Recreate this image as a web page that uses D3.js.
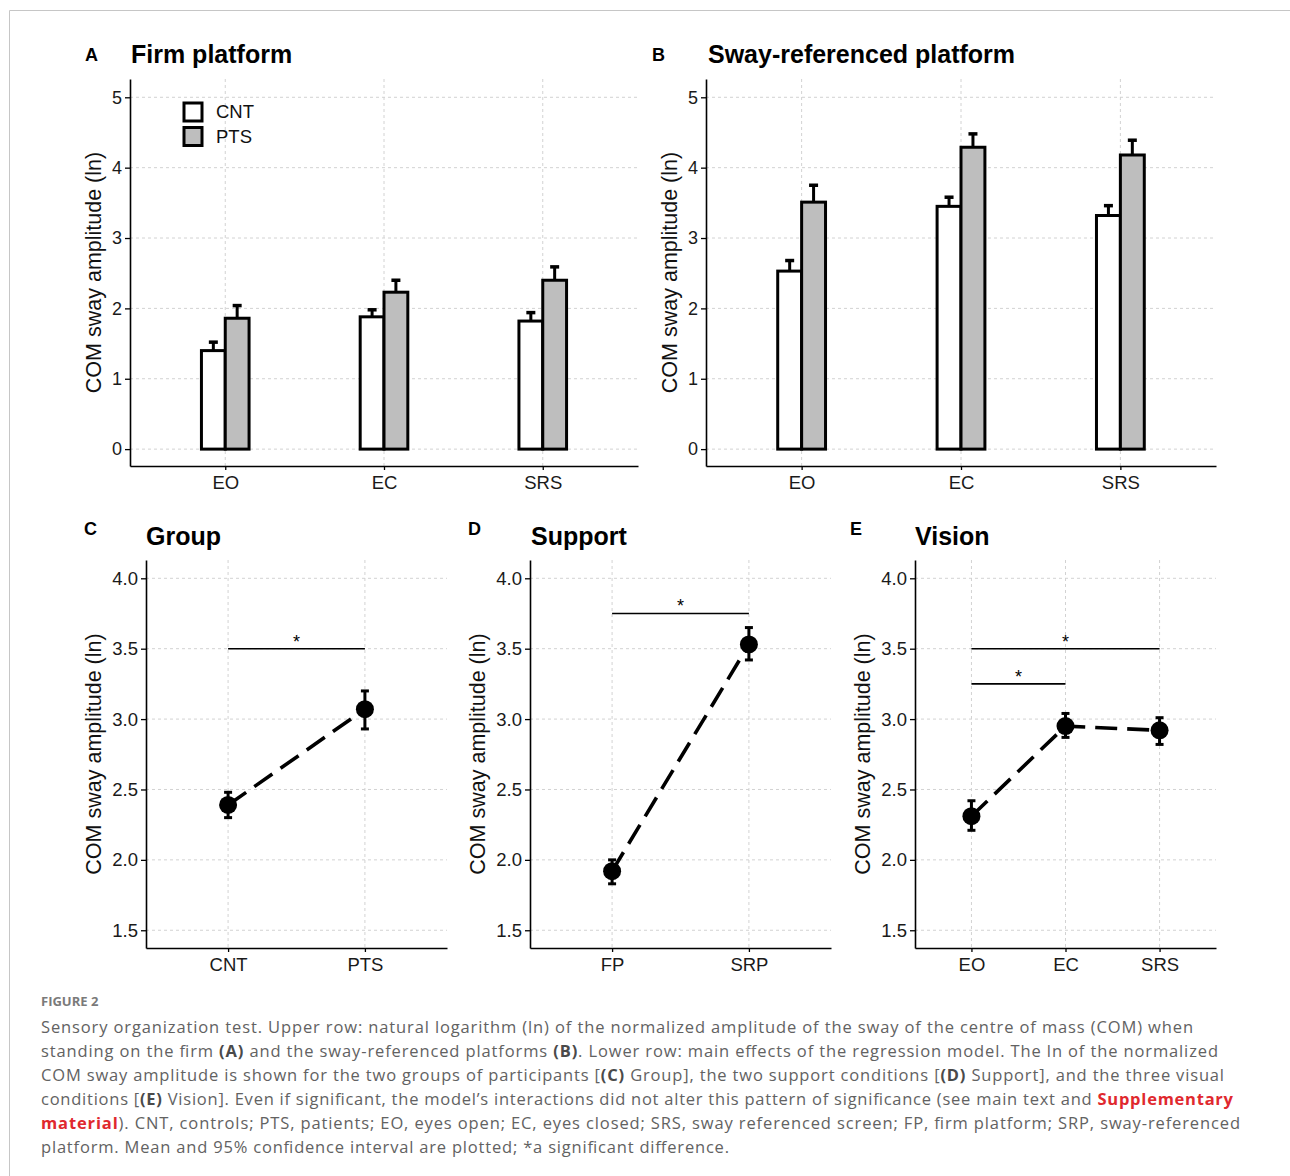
<!DOCTYPE html>
<html>
<head>
<meta charset="utf-8">
<script src="https://cdn.jsdelivr.net/npm/d3@7"></script>
<style>
  body { margin: 0; background: #fff; }
  svg { font-family: "Liberation Sans", Arial, sans-serif; }
</style>
</head>
<body>
<script>
// categories
var visionConds = ["EO", "EC", "SRS"]
var groupNames = ["CNT", "PTS"]
var supportConds = ["FP", "SRP"]

// A - firm platform: mean and upper 95% CI
var firmCNT = [1.40, 1.88, 1.82]
var firmCNTup = [1.52, 1.98, 1.94]
var firmPTS = [1.86, 2.23, 2.40]
var firmPTSup = [2.04, 2.40, 2.59]

// B - sway-referenced platform
var swayCNT = [2.53, 3.45, 3.32]
var swayCNTup = [2.68, 3.58, 3.46]
var swayPTS = [3.51, 4.29, 4.18]
var swayPTSup = [3.75, 4.48, 4.39]

// C - group effect
var groupMean = [2.39, 3.07]
var groupLow = [2.30, 2.93]
var groupHigh = [2.48, 3.20]

// D - support effect
var supportMean = [1.92, 3.53]
var supportLow = [1.83, 3.42]
var supportHigh = [2.00, 3.65]

// E - vision effect
var visionMean = [2.31, 2.95, 2.92]
var visionLow = [2.21, 2.87, 2.82]
var visionHigh = [2.42, 3.04, 3.01]

// significance bars [from, to, level]
var groupSig = [["CNT", "PTS", 3.5]]
var supportSig = [["FP", "SRP", 3.75]]
var visionSig = [["EO", "SRS", 3.5], ["EO", "EC", 3.25]]

// tick labels
var barTicks = [0, 1, 2, 3, 4, 5]
var effectTicks = [1.5, 2.0, 2.5, 3.0, 3.5, 4.0]

const svg = d3.select("body").append("svg")
    .attr("width", 1290)
    .attr("height", 1176)

// page frame
svg.append("path")
    .attr("d", "M9.5,1176V10.5H1290")
    .attr("fill", "none")
    .attr("stroke", "#c6c6c6")
    .attr("stroke-width", 1)

// shared frame: grid, axes, labels, titles
function drawFrame(o) {
    var x = d3.scalePoint().domain(o.cats).range([o.left, o.right]).padding(0.6)
    var y = d3.scaleLinear().domain(o.yDomain).range([o.bottom, o.top])
    var g = svg.append("g")

    g.selectAll(".hgrid").data(o.ticks).enter().append("line")
        .attr("x1", o.left).attr("x2", o.right)
        .attr("y1", d => y(d)).attr("y2", d => y(d))
        .attr("stroke", "#d2d2d2").attr("stroke-dasharray", "3,3")
    g.selectAll(".vgrid").data(o.cats).enter().append("line")
        .attr("x1", d => x(d)).attr("x2", d => x(d))
        .attr("y1", o.top).attr("y2", o.bottom)
        .attr("stroke", "#d2d2d2").attr("stroke-dasharray", "3,3")

    var ya = g.append("g")
        .attr("transform", `translate(${o.left},0)`)
        .call(d3.axisLeft(y).tickValues(o.ticks).tickFormat(o.fmt).tickSize(5).tickSizeOuter(0).tickPadding(3))
    var xa = g.append("g")
        .attr("transform", `translate(0,${o.bottom})`)
        .call(d3.axisBottom(x).tickSize(4).tickSizeOuter(0).tickPadding(6))

    ya.attr("font-family", null)
    xa.attr("font-family", null)
    ya.selectAll("text").attr("font-size", o.tickFont).attr("fill", "#1a1a1a")
    xa.selectAll("text").attr("font-size", 18.5).attr("fill", "#1a1a1a")
    g.selectAll(".domain").attr("stroke", "#000").attr("stroke-width", 1.6)
    g.selectAll(".tick line").attr("stroke", "#000").attr("stroke-width", 1.3)

    // y label
    g.append("text")
        .attr("transform", `translate(${o.labelX},${(o.top + o.bottom) / 2}) rotate(-90)`)
        .attr("text-anchor", "middle")
        .attr("dy", "0.35em")
        .attr("font-size", 21.5)
        .attr("fill", "#111")
        .text("COM sway amplitude (ln)")

    // tag and title
    g.append("text").attr("x", o.tagX).attr("y", o.tagY)
        .attr("font-size", 18).attr("font-weight", "bold").text(o.tag)
    g.append("text").attr("x", o.titleX).attr("y", o.titleY)
        .attr("font-size", 25).attr("font-weight", "bold").text(o.title)

    return { g: g, x: x, y: y }
}

function drawBars(o, cnt, cntUp, pts, ptsUp, legend) {
    var p = drawFrame(o)
    var step = p.x.step()
    var dodge = d3.scaleBand().domain(groupNames).range([-0.15 * step, 0.15 * step])
    var fills = { CNT: "#ffffff", PTS: "#bebebe" }

    var rows = []
    visionConds.forEach((c, i) => {
        rows.push({ cat: c, grp: "CNT", v: cnt[i], up: cntUp[i] })
        rows.push({ cat: c, grp: "PTS", v: pts[i], up: ptsUp[i] })
    })
    var cx = d => p.x(d.cat) + dodge(d.grp) + dodge.bandwidth() / 2

    // error bars (upper only), under the bars
    p.g.selectAll(".eb").data(rows).enter().append("line")
        .attr("x1", cx).attr("x2", cx)
        .attr("y1", d => p.y(d.v)).attr("y2", d => p.y(d.up))
        .attr("stroke", "#000").attr("stroke-width", 3)
    p.g.selectAll(".cap").data(rows).enter().append("line")
        .attr("x1", d => cx(d) - 4.5).attr("x2", d => cx(d) + 4.5)
        .attr("y1", d => p.y(d.up)).attr("y2", d => p.y(d.up))
        .attr("stroke", "#000").attr("stroke-width", 3.5)

    p.g.selectAll(".bar").data(rows).enter().append("rect")
        .attr("x", d => p.x(d.cat) + dodge(d.grp))
        .attr("width", dodge.bandwidth())
        .attr("y", d => p.y(d.v))
        .attr("height", d => p.y(0) - p.y(d.v))
        .attr("fill", d => fills[d.grp])
        .attr("stroke", "#000").attr("stroke-width", 3)

    if (legend) {
        var lg = p.g.append("g").attr("transform", "translate(184,103)")
        groupNames.forEach((n, i) => {
            lg.append("rect").attr("x", 0).attr("y", i * 24.5)
                .attr("width", 18).attr("height", 18)
                .attr("fill", fills[n]).attr("stroke", "#000").attr("stroke-width", 3)
            lg.append("text").attr("x", 32).attr("y", i * 24.5 + 9)
                .attr("dy", "0.35em").attr("font-size", 18.5).attr("fill", "#111").text(n)
        })
    }
}

function drawEffect(o, mean, lo, hi, sig) {
    var p = drawFrame(o)
    var pts = o.cats.map((c, i) => ({ c: c, m: mean[i], lo: lo[i], hi: hi[i] }))

    // significance bars
    sig.forEach(s => {
        var yy = p.y(s[2])
        p.g.append("line")
            .attr("x1", p.x(s[0])).attr("x2", p.x(s[1]))
            .attr("y1", yy).attr("y2", yy)
            .attr("stroke", "#000").attr("stroke-width", 1.6)
        p.g.append("text")
            .attr("x", (p.x(s[0]) + p.x(s[1])) / 2).attr("y", yy - 1)
            .attr("text-anchor", "middle").attr("font-size", 18).text("*")
    })

    var line = d3.line().x(d => p.x(d.c)).y(d => p.y(d.m))
    p.g.append("path").datum(pts)
        .attr("d", line)
        .attr("fill", "none").attr("stroke", "#000")
        .attr("stroke-width", 3.6).attr("stroke-dasharray", "22,10")

    p.g.selectAll(".ci").data(pts).enter().append("line")
        .attr("x1", d => p.x(d.c)).attr("x2", d => p.x(d.c))
        .attr("y1", d => p.y(d.lo)).attr("y2", d => p.y(d.hi))
        .attr("stroke", "#000").attr("stroke-width", 3)
    ;["lo", "hi"].forEach(k => {
        p.g.selectAll(".cap" + k).data(pts).enter().append("line")
            .attr("x1", d => p.x(d.c) - 4).attr("x2", d => p.x(d.c) + 4)
            .attr("y1", d => p.y(d[k])).attr("y2", d => p.y(d[k]))
            .attr("stroke", "#000").attr("stroke-width", 3)
    })

    p.g.selectAll(".pt").data(pts).enter().append("circle")
        .attr("cx", d => p.x(d.c)).attr("cy", d => p.y(d.m))
        .attr("r", 9).attr("fill", "#000")
}

var barBase = { cats: visionConds, top: 79, bottom: 466, yDomain: [-0.24, 5.26], ticks: barTicks, fmt: d3.format("d"), tickFont: 18 }
var effBase = { top: 560, bottom: 948, yDomain: [1.374, 4.13], ticks: effectTicks, fmt: d3.format(".1f"), tickFont: 18.5 }

drawBars(Object.assign({}, barBase, { left: 130, right: 638, labelX: 93, tag: "A", tagX: 85, tagY: 61, title: "Firm platform", titleX: 131, titleY: 63 }),
    firmCNT, firmCNTup, firmPTS, firmPTSup, true)
drawBars(Object.assign({}, barBase, { left: 706, right: 1216, labelX: 669, tag: "B", tagX: 652, tagY: 61, title: "Sway-referenced platform", titleX: 708, titleY: 63 }),
    swayCNT, swayCNTup, swayPTS, swayPTSup, false)

drawEffect(Object.assign({}, effBase, { cats: groupNames, left: 146, right: 447, labelX: 93, tag: "C", tagX: 84, tagY: 535, title: "Group", titleX: 146, titleY: 545 }),
    groupMean, groupLow, groupHigh, groupSig)
drawEffect(Object.assign({}, effBase, { cats: supportConds, left: 530, right: 831, labelX: 477, tag: "D", tagX: 468, tagY: 535, title: "Support", titleX: 531, titleY: 545 }),
    supportMean, supportLow, supportHigh, supportSig)
drawEffect(Object.assign({}, effBase, { cats: visionConds, left: 915, right: 1216, labelX: 862, tag: "E", tagX: 850, tagY: 535, title: "Vision", titleX: 915, titleY: 545 }),
    visionMean, visionLow, visionHigh, visionSig)

// caption
svg.append("text")
    .attr("x", 41).attr("y", 1006)
    .style("font-family", "'Open Sans', sans-serif").attr("font-size", 13).attr("font-weight", "bold")
    .attr("fill", "#7a7a7a")
    .text("FIGURE 2")

var N = "n", B = "b", R = "r"
var captionLines = [
    [[N, "Sensory organization test. Upper row: natural logarithm (ln) of the normalized amplitude of the sway of the centre of mass (COM) when"]],
    [[N, "standing on the firm "], [B, "(A)"], [N, " and the sway-referenced platforms "], [B, "(B)"], [N, ". Lower row: main effects of the regression model. The ln of the normalized"]],
    [[N, "COM sway amplitude is shown for the two groups of participants ["], [B, "(C)"], [N, " Group], the two support conditions ["], [B, "(D)"], [N, " Support], and the three visual"]],
    [[N, "conditions ["], [B, "(E)"], [N, " Vision]. Even if significant, the model\u2019s interactions did not alter this pattern of significance (see main text and "], [R, "Supplementary"]],
    [[R, "material"], [N, "). CNT, controls; PTS, patients; EO, eyes open; EC, eyes closed; SRS, sway referenced screen; FP, firm platform; SRP, sway-referenced"]],
    [[N, "platform. Mean and 95% confidence interval are plotted; *a significant difference."]]
]
var captionEnds = [1193, 1218, 1224, 1233, 1240, 729]

captionLines.forEach((segs, i) => {
    var t = svg.append("text")
        .attr("x", 41).attr("y", 1033 + i * 24)
        .style("font-family", "'Open Sans', sans-serif").attr("font-size", 16.5)
        .attr("fill", "#626262")
        .attr("textLength", captionEnds[i] - 41)
        .attr("lengthAdjust", "spacing")
    segs.forEach(s => {
        t.append("tspan")
            .attr("font-weight", s[0] == N ? "normal" : "bold")
            .attr("fill", s[0] == R ? "#e0282e" : (s[0] == B ? "#4a4a4a" : "#626262"))
            .text(s[1])
    })
})
</script>
</body>
</html>
